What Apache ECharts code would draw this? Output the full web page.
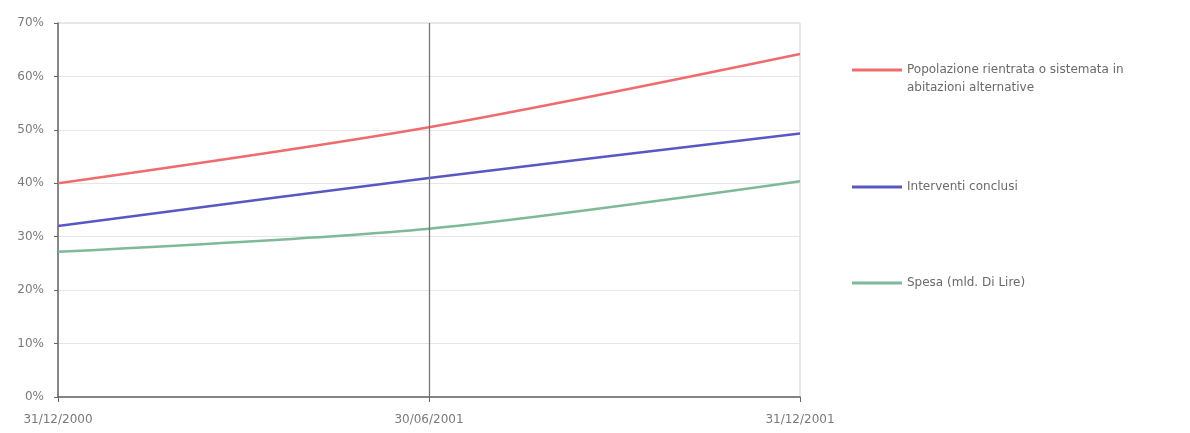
<!DOCTYPE html>
<html><head><meta charset="utf-8">
<script src="https://cdn.jsdelivr.net/npm/echarts@6/dist/echarts.min.js"></script>
<style>html,body{margin:0;padding:0;background:#fff}#c{width:1190px;height:433px}</style>
</head><body><div id="c"></div>
<script>
const categories = ['31/12/2000', '30/06/2001', '31/12/2001'];
const popolazione = [40, 50.5, 64.2];
const interventi = [32, 41, 49.3];
const spesa = [27.2, 31.5, 40.4];
const yTicks = [0, 10, 20, 30, 40, 50, 60, 70];
const names = ['Popolazione rientrata o sistemata in\nabitazioni alternative', 'Interventi conclusi', 'Spesa (mld. Di Lire)'];
const colors = ['#f06c6c', '#5858c4', '#7fba98'];

const FONT = 'DejaVu Sans, Liberation Sans, sans-serif';
const chart = echarts.init(document.getElementById('c'));
const legendBase = {
  orient: 'vertical', left: 847, icon: 'rect', itemWidth: 50, itemHeight: 3, itemGap: 0,
  textStyle: { color: '#6a6a6a', fontSize: 12, fontFamily: FONT, lineHeight: 18 }
};
chart.setOption({
  animation: false,
  grid: { left: 58, right: 390, top: 23, bottom: 36, show: true, borderColor: '#cfcfcf', borderWidth: 1 },
  legend: [
    Object.assign({}, legendBase, { data: [names[0]], top: 38, formatter: n => '\n' + n }),
    Object.assign({}, legendBase, { data: [names[1]], top: 173 }),
    Object.assign({}, legendBase, { data: [names[2]], top: 269 })
  ],
  xAxis: {
    type: 'category', data: categories, boundaryGap: false,
    axisLine: { lineStyle: { color: '#666', width: 1.5 } },
    axisTick: { length: 5, lineStyle: { color: '#666' } },
    axisLabel: { color: '#7a7a7a', fontSize: 12, fontFamily: FONT, margin: 17 },
    splitLine: { show: false }
  },
  yAxis: {
    type: 'value', min: 0, max: 70, interval: 10,
    axisLine: { show: true, lineStyle: { color: '#666', width: 1.5 } },
    axisTick: { show: true, length: 4, lineStyle: { color: '#666' } },
    axisLabel: { color: '#7a7a7a', fontSize: 12, fontFamily: FONT, margin: 14,
      formatter: v => yTicks.includes(v) ? v + '%' : '' },
    splitLine: { lineStyle: { color: '#e6e6e6', width: 1 } }
  },
  series: [
    { name: names[0], type: 'line', data: popolazione, smooth: 0.3, symbol: 'none',
      lineStyle: { color: colors[0], width: 2.5 }, itemStyle: { color: colors[0] },
      markLine: { silent: true, symbol: 'none', label: { show: false },
        lineStyle: { color: '#777', width: 1.3, type: 'solid' }, data: [{ xAxis: categories[1] }] } },
    { name: names[1], type: 'line', data: interventi, smooth: 0.3, symbol: 'none',
      lineStyle: { color: colors[1], width: 2.5 }, itemStyle: { color: colors[1] } },
    { name: names[2], type: 'line', data: spesa, smooth: 0.3, symbol: 'none',
      lineStyle: { color: colors[2], width: 2.5 }, itemStyle: { color: colors[2] } }
  ]
});
</script></body></html>
